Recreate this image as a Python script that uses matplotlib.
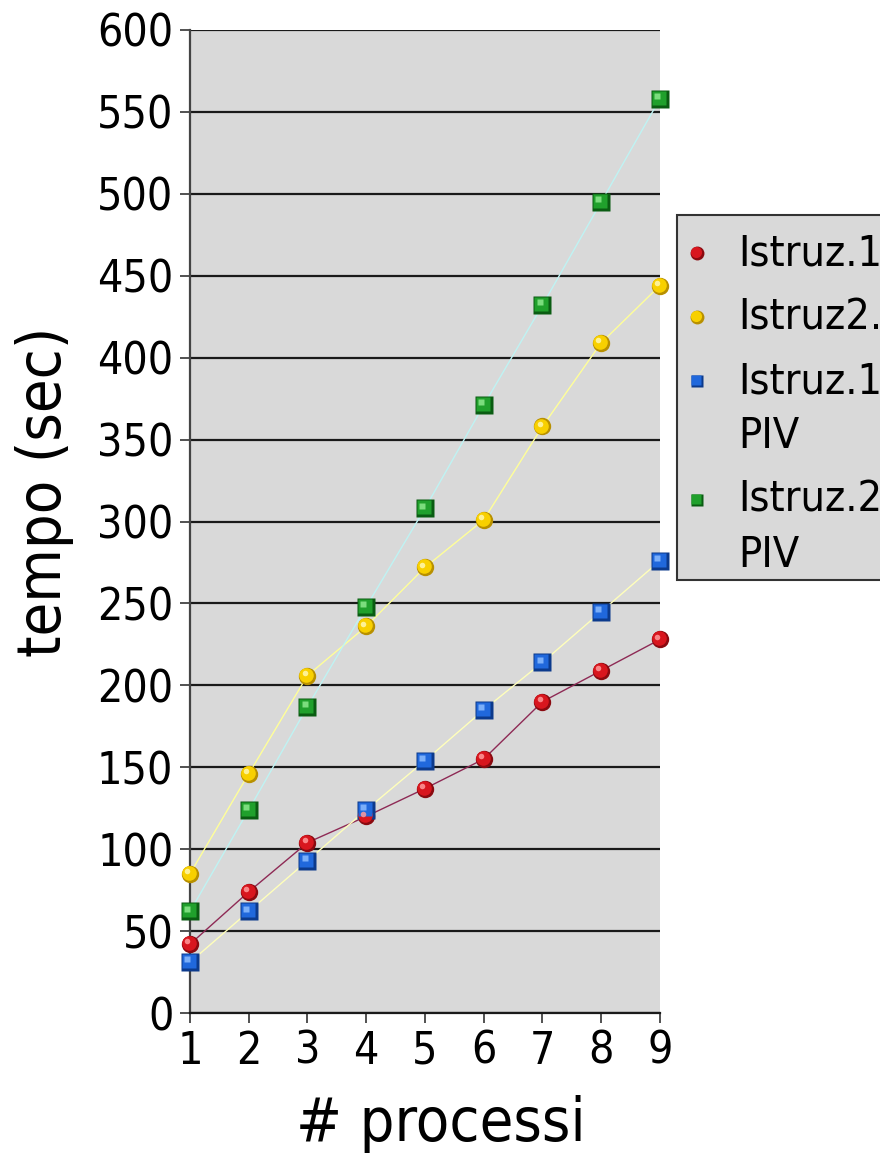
import matplotlib
matplotlib.use("Agg")
import matplotlib.pyplot as plt
import matplotlib.transforms as mtransforms
from matplotlib.lines import Line2D
from matplotlib.patches import Rectangle

processes = [1, 2, 3, 4, 5, 6, 7, 8, 9]
istruz1 = [42, 74, 104, 120, 137, 155, 190, 209, 228]
istruz2 = [85, 146, 206, 236, 272, 301, 358, 409, 444]
istruz1_piv = [31, 62, 93, 124, 154, 185, 214, 245, 276]
istruz2_piv = [62, 124, 187, 248, 308, 371, 432, 495, 558]

labels = ["Istruz.1", "Istruz2.", "Istruz.1\nPIV", "Istruz.2\nPIV"]
y_ticks = list(range(0, 601, 50))

plt.rcParams["font.family"] = ["DejaVu Sans"]
plt.rcParams["font.stretch"] = "condensed"

W, H = 880, 1153

# series: values, line colour, marker, dark, face, highlight
series = [
    (istruz1, "#8e2a55", "o", "#8a0a10", "#d8161e", "#ff9a9a"),
    (istruz2, "#ffff99", "o", "#b89000", "#f8d000", "#fff8b0"),
    (istruz1_piv, "#ffffbb", "s", "#0c3a8c", "#2068dc", "#8cbcff"),
    (istruz2_piv, "#bff3f3", "s", "#0a5c12", "#20a02c", "#8ce88c"),
]

fig = plt.figure(figsize=(W / 100, H / 100), dpi=100)
ax = fig.add_axes([0.2159, 0.1214, 0.534, 0.8526])
ax.set_facecolor("#d9d9d9")


def shift(dx, dy):
    return mtransforms.offset_copy(ax.transData, fig=fig, x=dx, y=dy, units="points")


for vals, lc, mk, dk, fc, hc in series:
    ax.plot(processes, vals, color=lc, lw=1.0, zorder=3, clip_on=False)
    ax.plot(processes, vals, ls="none", marker=mk, ms=12.5, mfc=dk, mec="none",
            zorder=4, clip_on=False)
    ax.plot(processes, vals, ls="none", marker=mk, ms=10.5, mfc=fc, mec="none",
            zorder=5, clip_on=False, transform=shift(-0.7, 0.7))
    ax.plot(processes, vals, ls="none", marker=mk, ms=4, mfc=hc, mec="none",
            alpha=0.85, zorder=6, clip_on=False, transform=shift(-2.0, 2.0))

ax.set_xlim(1, 9)
ax.set_ylim(0, 600)
ax.set_xticks(processes)
ax.set_yticks(y_ticks)
ax.yaxis.grid(True, color="#1a1a1a", lw=1.6)
ax.set_axisbelow(True)
for s in ["top", "right"]:
    ax.spines[s].set_visible(False)
ax.spines["left"].set_color("#444444")
ax.spines["left"].set_linewidth(1.6)
ax.spines["bottom"].set_color("#1a1a1a")
ax.spines["bottom"].set_linewidth(1.6)
ax.tick_params(axis="both", labelsize=32, length=7, width=1.2, color="#333333")
ax.tick_params(axis="y", pad=5)
ax.tick_params(axis="x", pad=5)

# axis titles placed as in the original (slightly off-centre)
fig.text(441 / W, 1 - 1141 / H, "# processi", fontsize=44, ha="center", va="baseline")
fig.text(45 / W, 1 - 492 / H, "tempo (sec)", fontsize=44, rotation=90,
         ha="center", va="center")

# legend box drawn by hand so markers sit on the first line of each label
fig.patches.append(Rectangle((677 / W, 1 - 580 / H), 210 / W, 365 / H,
                             transform=fig.transFigure, facecolor="#d9d9d9",
                             edgecolor="#333333", lw=1.5))
y = 253
for (vals, lc, mk, dk, fc, hc), lab in zip(series, labels):
    lines = lab.split("\n")
    fy = 1 - y / H
    ms = 10 if mk == "o" else 8.5
    fig.add_artist(Line2D([697 / W], [fy], transform=fig.transFigure, ls="none",
                          marker=mk, ms=ms, mfc=dk, mec="none"))
    fig.add_artist(Line2D([696.3 / W], [fy + 0.7 / H], transform=fig.transFigure,
                          ls="none", marker=mk, ms=ms * 0.8, mfc=fc, mec="none"))
    for k, txt in enumerate(lines):
        fig.text(738 / W, 1 - (y + 55 * k) / H, txt, fontsize=31,
                 ha="left", va="center")
    y += 55 * (len(lines) - 1) + 64

fig.savefig("out.png", dpi=100)
